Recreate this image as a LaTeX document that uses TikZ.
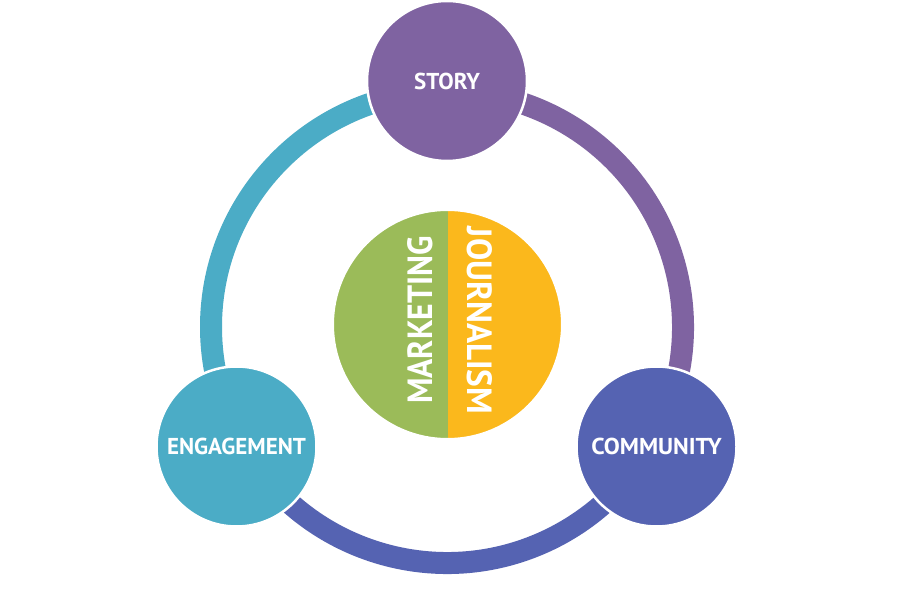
\documentclass[tikz,border=0pt]{standalone}
\usepackage{fontspec}
\setmainfont{PT Sans}
\definecolor{cpurple}{HTML}{7F63A1}
\definecolor{cteal}{HTML}{4BACC6}
\definecolor{cblue}{HTML}{5563B2}
\definecolor{cgreen}{HTML}{9BBB59}
\definecolor{cyellow}{HTML}{FBB81C}
\tikzset{
  ringseg/.style={line width=22pt},
  bub/.style={circle, minimum size=160pt, inner sep=0pt, draw=white, line width=2.5pt, text=white, font=\fontsize{23}{23}\selectfont\bfseries},
  bigtxt/.style={text=white, inner sep=0pt, font=\fontsize{35}{35}\selectfont\bfseries}
}
\begin{document}
\begin{tikzpicture}[x=1pt,y=1pt]
\fill[white] (0,0) rectangle (900,600);
\useasboundingbox (0,0) rectangle (900,600);
\coordinate (rc) at (447,273);
\draw[ringseg, cteal] ([shift={(90:236)}]rc) arc[start angle=90, end angle=212, radius=236];
\draw[ringseg, cpurple] ([shift={(-32:236)}]rc) arc[start angle=-32, end angle=90, radius=236];
\draw[ringseg, cblue] ([shift={(208:236)}]rc) arc[start angle=208, end angle=332, radius=236];
\node[bub, fill=cpurple] (story) at (447,519) {STORY};
\node[bub, fill=cteal] (engagement) at (236.5,153.5) {ENGAGEMENT};
\node[bub, fill=cblue] (community) at (656.5,153.5) {\scalebox{1.04}[1]{COMMUNITY}};
\node[circle, minimum size=229pt, inner sep=0pt, draw=white, line width=2pt,
  path picture={
    \fill[cgreen] (path picture bounding box.south west) rectangle ([xshift=0.5pt]path picture bounding box.north);
    \fill[cyellow] ([xshift=0.5pt]path picture bounding box.north) rectangle (path picture bounding box.south east);
  }] (center) at (447.5,275.5) {};
\node[bigtxt, rotate=90] (marketing) at (420.5,280) {\scalebox{0.91}[1]{MARKETING}};
\node[bigtxt, rotate=-90] (journalism) at (480,279.5) {\scalebox{0.95}[1]{JOURNALISM}};
\end{tikzpicture}
\end{document}
